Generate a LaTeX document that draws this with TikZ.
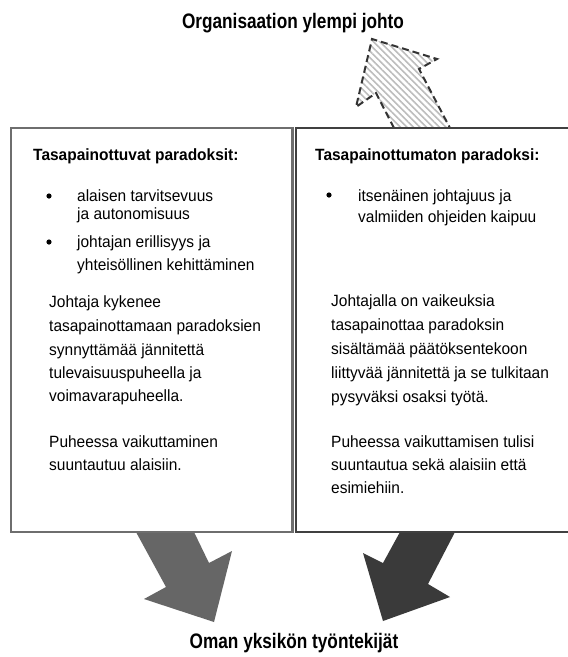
\documentclass[tikz,border=0pt]{standalone}
\usepackage{fontspec}
\setmainfont{Liberation Sans}[FakeStretch=0.95]
\newfontfamily\narrowfont{Liberation Sans}[FakeStretch=0.82]
\usetikzlibrary{patterns.meta}
\definecolor{boxgray}{HTML}{6E6E6E}
\definecolor{boxdark}{HTML}{404040}
\definecolor{arrowmid}{HTML}{666666}
\definecolor{arrowdark}{HTML}{3A3A3A}
\definecolor{hatch}{HTML}{BDBDBD}
\definecolor{dashcol}{HTML}{333333}
\tikzset{
  body/.style={anchor=base west, inner sep=0pt, font=\fontsize{16.3}{20}\selectfont},
  head/.style={anchor=base west, inner sep=0pt, font=\fontsize{16.3}{20}\selectfont\bfseries},
  outer/.style={anchor=base, inner sep=0pt, font=\narrowfont\fontsize{21}{24}\selectfont\bfseries},
  bulletdot/.style={fill=black},
}
\begin{document}
\begin{tikzpicture}[x=1pt,y=-1pt]
\useasboundingbox (0,0) rectangle (568,657);
\fill[white] (0,0) rectangle (568,657);

% top hatched arrow
\path[pattern={Lines[angle=-45, distance=4.6pt, line width=1.6pt]}, pattern color=hatch]
  (394,128) -- (376,93) -- (356,107) -- (372,39) -- (437,59) -- (419,69) -- (450,128) -- cycle;
\draw[dashcol, line width=2pt, dash pattern=on 7pt off 4pt, line join=miter]
  (394,128) -- (376,93) -- (356,107) -- (372,39) -- (437,59) -- (419,69) -- (450,128);

% bottom arrows
\fill[arrowmid] (136,532) -- (194,532) -- (209,563) -- (232,551) -- (214,622) -- (144,599) -- (166,587) -- cycle;
\fill[arrowdark] (400,532) -- (455,532) -- (428,584) -- (450,597) -- (383,621) -- (363,553) -- (383,563) -- cycle;

% boxes
\draw[boxgray, line width=2.2pt] (11,128) rectangle (292.5,532);
\draw[boxdark, line width=2.6pt] (296,128) rectangle (572,532);

% outer labels
\node[outer] (top) at (293,28) {Organisaation ylempi johto};
\node[outer] (bottom) at (294,648) {Oman yksikön työntekijät};

% left box
\node[head] (lh) at (33,160) {Tasapainottuvat paradoksit:};
\fill[bulletdot] (49,196) circle (2.6pt);
\node[body] (lb1a) at (77,201) {alaisen tarvitsevuus};
\node[body] (lb1b) at (77,219) {ja autonomisuus};
\fill[bulletdot] (49,242) circle (2.6pt);
\node[body] (lb2a) at (77,247) {johtajan erillisyys ja};
\node[body] (lb2b) at (77,270) {yhteisöllinen kehittäminen};
\node[body] (lp1) at (49,307) {Johtaja kykenee};
\node[body] (lp2) at (49,331) {tasapainottamaan paradoksien};
\node[body] (lp3) at (49,355) {synnyttämää jännitettä};
\node[body] (lp4) at (49,378) {tulevaisuuspuheella ja};
\node[body] (lp5) at (49,401) {voimavarapuheella.};
\node[body] (lq1) at (49,447) {Puheessa vaikuttaminen};
\node[body] (lq2) at (49,470) {suuntautuu alaisiin.};

% right box
\node[head] (rh) at (315,160) {Tasapainottumaton paradoksi:};
\fill[bulletdot] (329,195) circle (2.6pt);
\node[body] (rb1a) at (358,201) {itsenäinen johtajuus ja};
\node[body] (rb1b) at (358,222) {valmiiden ohjeiden kaipuu};
\node[body] (rp1) at (331,306) {Johtajalla on vaikeuksia};
\node[body] (rp2) at (331,330) {tasapainottaa paradoksin};
\node[body] (rp3) at (331,354) {sisältämää päätöksentekoon};
\node[body] (rp4) at (331,378) {liittyvää jännitettä ja se tulkitaan};
\node[body] (rp5) at (331,402) {pysyväksi osaksi työtä.};
\node[body] (rq1) at (331,447) {Puheessa vaikuttamisen tulisi};
\node[body] (rq2) at (331,470) {suuntautua sekä alaisiin että};
\node[body] (rq3) at (331,493) {esimiehiin.};
\end{tikzpicture}
\end{document}
